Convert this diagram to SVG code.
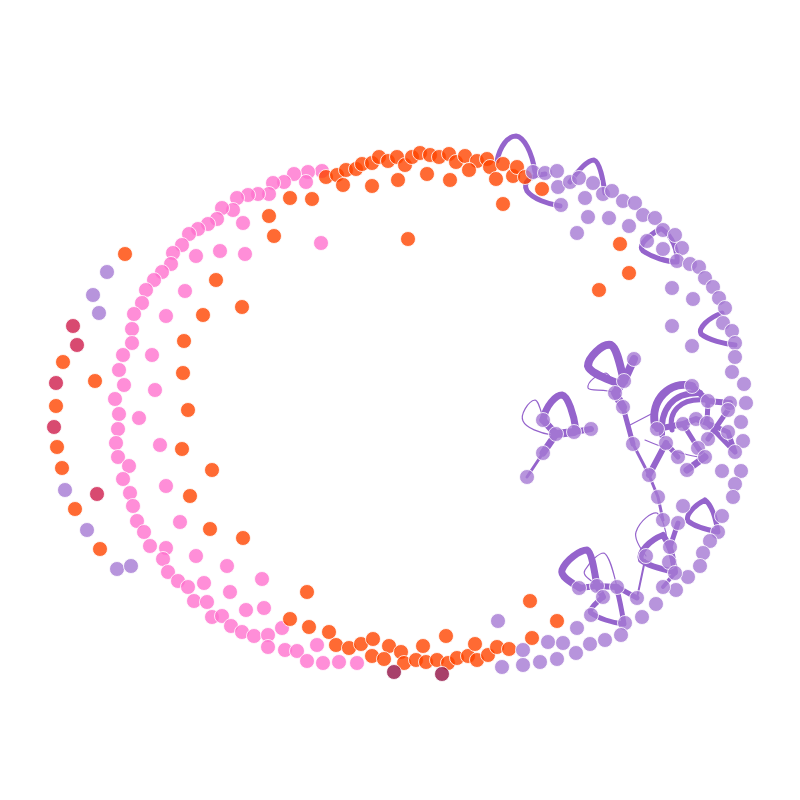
<svg xmlns="http://www.w3.org/2000/svg" width="800" height="800" viewBox="0 0 800 800">
<style>
circle{stroke:#fff;stroke-width:1;stroke-opacity:0.8;fill-opacity:0.8}
.o{fill:#ff4500}.p{fill:#ff72ce}.v{fill:#a579d3}.c{fill:#ce1d4c}.m{fill:#921045}
.e{fill:none;stroke:#9564cc;stroke-linecap:round;stroke-linejoin:round}
</style>
<rect width="800" height="800" fill="#fff"/>
<g id="connectors">
<path class="e" stroke-width="5" d="M497,161 C500,146 508,136 516,136 C524,137 532,152 535,172"/>
<path class="e" stroke-width="5" d="M545,174 C530,176 522,182 527,191 C533,199 548,204 560,206"/>
<path class="e" stroke-width="5" d="M570,182 C578,170 588,160 594,160 C600,162 603,180 605,193"/>
<path class="e" stroke-width="5" d="M660,229 C645,238 638,246 643,251 C652,257 667,262 677,262 C678,250 672,236 662,229"/>
<path class="e" stroke-width="5" d="M722,313 C708,318 698,328 701,334 C708,340 725,344 735,345"/>
<path class="e" stroke-width="8" d="M624,381 C620,365 617,348 611,345 C602,343 588,358 588,366 C590,373 605,378 617,383"/>
<path class="e" stroke-width="1.2" d="M615,393 C605,388 590,392 588,388 C587,382 597,374 606,373 C612,375 618,395 623,407"/>
<path class="e" stroke-width="7" d="M543,420 C546,405 556,395 562,395 C568,396 574,415 576,430"/>
<path class="e" stroke-width="1.2" d="M543,418 C540,408 538,400 535,400 C528,401 520,415 523,421 C526,428 540,433 552,435"/>
<path class="e" stroke-width="7" d="M580,588 C570,582 560,576 562,570 C566,560 580,550 587,550 C592,552 595,575 597,586"/>
<path class="e" stroke-width="1.2" d="M595,584 C588,578 582,575 585,570 C590,562 598,553 604,553 C610,556 614,575 617,587"/>
<path class="e" stroke-width="5" d="M603,597 C596,603 588,610 591,613 C598,618 612,623 624,624 C622,612 620,600 617,590"/>
<path class="e" stroke-width="6" d="M663,535 C650,540 638,552 641,560 C648,566 665,570 675,572 C674,560 670,545 663,535"/>
<path class="e" stroke-width="1.2" d="M646,556 C640,548 634,538 636,532 C640,520 652,512 657,513 C662,516 666,530 667,540"/>
<path class="e" stroke-width="5" d="M705,500 C695,505 685,515 688,521 C695,527 708,530 718,532 C716,520 712,505 705,500"/>
<path class="e" stroke-width="1.2" d="M630,425 L655,412 M645,440 Q680,455 705,458"/>
<path class="e" stroke-width="3" d="M527,477 L543,453"/>
<path class="e" stroke-width="7" d="M543,453 L556,434 L543,420"/>
<path class="e" stroke-width="8" d="M556,434 L574,432"/>
<path class="e" stroke-width="6" d="M574,432 L591,429"/>
<path class="e" stroke-width="8" d="M634,359 L624,381 L615,393 L623,407"/>
<path class="e" stroke-width="5" d="M623,407 L633,444"/>
<path class="e" stroke-width="3" d="M633,444 L649,475 L658,497 L663,520"/>
<path class="e" stroke-width="6" d="M649,475 L666,443"/>
<path class="e" stroke-width="6" d="M657,429 L683,424 L696,419 L707,423 M692,386 L708,401 L730,403"/>
<path class="e" stroke-width="5" d="M708,401 L707,423 L728,432 L735,452 M683,424 L698,448 L705,457 M666,443 L678,457 M728,410 L708,439 M707,423 L735,452"/>
<path class="e" stroke-width="7" d="M705,457 L687,470"/>
<path class="e" stroke-width="8" d="M655,425 C650,400 670,380 692,386"/>
<path class="e" stroke-width="6" d="M662,435 C660,410 672,392 700,393"/>
<path class="e" stroke-width="5" d="M672,430 C668,412 680,398 705,400"/>
<path class="e" stroke-width="6" d="M579,588 L597,586 L603,597 M597,586 L617,587"/>
<path class="e" stroke-width="5" d="M617,587 L637,598"/>
<path class="e" stroke-width="2" d="M637,598 L645,560"/>
<path class="e" stroke-width="5" d="M678,523 L670,547 L675,573"/>
<path class="e" stroke-width="4" d="M675,573 L663,587"/>
</g>
<g id="nodes">
<g id="n1"><circle class="p" cx="322" cy="171" r="7.5"/></g>
<g id="n2"><circle class="p" cx="308" cy="172" r="7.5"/></g>
<g id="n3"><circle class="p" cx="306" cy="182" r="7.5"/></g>
<g id="n4"><circle class="p" cx="294" cy="174" r="7.5"/></g>
<g id="n5"><circle class="p" cx="284" cy="182" r="7.5"/></g>
<g id="n6"><circle class="p" cx="273" cy="183" r="7.5"/></g>
<g id="n7"><circle class="p" cx="269" cy="194" r="7.5"/></g>
<g id="n8"><circle class="p" cx="258" cy="194" r="7.5"/></g>
<g id="n9"><circle class="p" cx="248" cy="195" r="7.5"/></g>
<g id="n10"><circle class="p" cx="237" cy="198" r="7.5"/></g>
<g id="n11"><circle class="p" cx="233" cy="210" r="7.5"/></g>
<g id="n12"><circle class="p" cx="222" cy="208" r="7.5"/></g>
<g id="n13"><circle class="p" cx="217" cy="219" r="7.5"/></g>
<g id="n14"><circle class="p" cx="208" cy="224" r="7.5"/></g>
<g id="n15"><circle class="p" cx="198" cy="229" r="7.5"/></g>
<g id="n16"><circle class="p" cx="189" cy="234" r="7.5"/></g>
<g id="n17"><circle class="p" cx="182" cy="245" r="7.5"/></g>
<g id="n18"><circle class="p" cx="173" cy="253" r="7.5"/></g>
<g id="n19"><circle class="p" cx="171" cy="264" r="7.5"/></g>
<g id="n20"><circle class="p" cx="162" cy="272" r="7.5"/></g>
<g id="n21"><circle class="p" cx="154" cy="280" r="7.5"/></g>
<g id="n22"><circle class="p" cx="146" cy="290" r="7.5"/></g>
<g id="n23"><circle class="p" cx="142" cy="303" r="7.5"/></g>
<g id="n24"><circle class="p" cx="134" cy="314" r="7.5"/></g>
<g id="n25"><circle class="p" cx="132" cy="329" r="7.5"/></g>
<g id="n26"><circle class="p" cx="132" cy="343" r="7.5"/></g>
<g id="n27"><circle class="p" cx="123" cy="355" r="7.5"/></g>
<g id="n28"><circle class="p" cx="119" cy="370" r="7.5"/></g>
<g id="n29"><circle class="p" cx="124" cy="385" r="7.5"/></g>
<g id="n30"><circle class="p" cx="115" cy="399" r="7.5"/></g>
<g id="n31"><circle class="p" cx="119" cy="414" r="7.5"/></g>
<g id="n32"><circle class="p" cx="118" cy="429" r="7.5"/></g>
<g id="n33"><circle class="p" cx="116" cy="443" r="7.5"/></g>
<g id="n34"><circle class="p" cx="118" cy="457" r="7.5"/></g>
<g id="n35"><circle class="p" cx="129" cy="466" r="7.5"/></g>
<g id="n36"><circle class="p" cx="123" cy="479" r="7.5"/></g>
<g id="n37"><circle class="p" cx="130" cy="493" r="7.5"/></g>
<g id="n38"><circle class="p" cx="133" cy="506" r="7.5"/></g>
<g id="n39"><circle class="p" cx="137" cy="521" r="7.5"/></g>
<g id="n40"><circle class="p" cx="144" cy="532" r="7.5"/></g>
<g id="n41"><circle class="p" cx="150" cy="546" r="7.5"/></g>
<g id="n42"><circle class="p" cx="166" cy="548" r="7.5"/></g>
<g id="n43"><circle class="p" cx="163" cy="559" r="7.5"/></g>
<g id="n44"><circle class="p" cx="168" cy="572" r="7.5"/></g>
<g id="n45"><circle class="p" cx="178" cy="581" r="7.5"/></g>
<g id="n46"><circle class="p" cx="188" cy="587" r="7.5"/></g>
<g id="n47"><circle class="p" cx="194" cy="601" r="7.5"/></g>
<g id="n48"><circle class="p" cx="207" cy="602" r="7.5"/></g>
<g id="n49"><circle class="p" cx="212" cy="617" r="7.5"/></g>
<g id="n50"><circle class="p" cx="222" cy="616" r="7.5"/></g>
<g id="n51"><circle class="p" cx="231" cy="626" r="7.5"/></g>
<g id="n52"><circle class="p" cx="242" cy="632" r="7.5"/></g>
<g id="n53"><circle class="p" cx="254" cy="636" r="7.5"/></g>
<g id="n54"><circle class="p" cx="268" cy="635" r="7.5"/></g>
<g id="n55"><circle class="p" cx="268" cy="647" r="7.5"/></g>
<g id="n56"><circle class="p" cx="282" cy="628" r="7.5"/></g>
<g id="n57"><circle class="p" cx="285" cy="650" r="7.5"/></g>
<g id="n58"><circle class="p" cx="297" cy="651" r="7.5"/></g>
<g id="n59"><circle class="p" cx="307" cy="661" r="7.5"/></g>
<g id="n60"><circle class="p" cx="317" cy="645" r="7.5"/></g>
<g id="n61"><circle class="p" cx="323" cy="663" r="7.5"/></g>
<g id="n62"><circle class="p" cx="339" cy="662" r="7.5"/></g>
<g id="n63"><circle class="p" cx="357" cy="663" r="7.5"/></g>
<g id="n64"><circle class="p" cx="243" cy="223" r="7.5"/></g>
<g id="n65"><circle class="p" cx="220" cy="251" r="7.5"/></g>
<g id="n66"><circle class="p" cx="196" cy="256" r="7.5"/></g>
<g id="n67"><circle class="p" cx="245" cy="254" r="7.5"/></g>
<g id="n68"><circle class="p" cx="185" cy="291" r="7.5"/></g>
<g id="n69"><circle class="p" cx="166" cy="316" r="7.5"/></g>
<g id="n70"><circle class="p" cx="321" cy="243" r="7.5"/></g>
<g id="n71"><circle class="p" cx="152" cy="355" r="7.5"/></g>
<g id="n72"><circle class="p" cx="155" cy="390" r="7.5"/></g>
<g id="n73"><circle class="p" cx="139" cy="418" r="7.5"/></g>
<g id="n74"><circle class="p" cx="160" cy="445" r="7.5"/></g>
<g id="n75"><circle class="p" cx="166" cy="486" r="7.5"/></g>
<g id="n76"><circle class="p" cx="180" cy="522" r="7.5"/></g>
<g id="n77"><circle class="p" cx="196" cy="556" r="7.5"/></g>
<g id="n78"><circle class="p" cx="227" cy="566" r="7.5"/></g>
<g id="n79"><circle class="p" cx="204" cy="583" r="7.5"/></g>
<g id="n80"><circle class="p" cx="230" cy="592" r="7.5"/></g>
<g id="n81"><circle class="p" cx="262" cy="579" r="7.5"/></g>
<g id="n82"><circle class="p" cx="246" cy="610" r="7.5"/></g>
<g id="n83"><circle class="p" cx="264" cy="608" r="7.5"/></g>
<g id="n84"><circle class="o" cx="125" cy="254" r="7.5"/></g>
<g id="n85"><circle class="o" cx="63" cy="362" r="7.5"/></g>
<g id="n86"><circle class="o" cx="95" cy="381" r="7.5"/></g>
<g id="n87"><circle class="o" cx="56" cy="406" r="7.5"/></g>
<g id="n88"><circle class="o" cx="57" cy="447" r="7.5"/></g>
<g id="n89"><circle class="o" cx="62" cy="468" r="7.5"/></g>
<g id="n90"><circle class="o" cx="75" cy="509" r="7.5"/></g>
<g id="n91"><circle class="o" cx="100" cy="549" r="7.5"/></g>
<g id="n92"><circle class="o" cx="269" cy="216" r="7.5"/></g>
<g id="n93"><circle class="o" cx="274" cy="236" r="7.5"/></g>
<g id="n94"><circle class="o" cx="216" cy="280" r="7.5"/></g>
<g id="n95"><circle class="o" cx="242" cy="307" r="7.5"/></g>
<g id="n96"><circle class="o" cx="203" cy="315" r="7.5"/></g>
<g id="n97"><circle class="o" cx="184" cy="341" r="7.5"/></g>
<g id="n98"><circle class="o" cx="183" cy="373" r="7.5"/></g>
<g id="n99"><circle class="o" cx="188" cy="410" r="7.5"/></g>
<g id="n100"><circle class="o" cx="182" cy="449" r="7.5"/></g>
<g id="n101"><circle class="o" cx="212" cy="470" r="7.5"/></g>
<g id="n102"><circle class="o" cx="190" cy="496" r="7.5"/></g>
<g id="n103"><circle class="o" cx="210" cy="529" r="7.5"/></g>
<g id="n104"><circle class="o" cx="243" cy="538" r="7.5"/></g>
<g id="n105"><circle class="o" cx="307" cy="592" r="7.5"/></g>
<g id="n106"><circle class="o" cx="290" cy="619" r="7.5"/></g>
<g id="n107"><circle class="o" cx="309" cy="627" r="7.5"/></g>
<g id="n108"><circle class="o" cx="329" cy="632" r="7.5"/></g>
<g id="n109"><circle class="o" cx="336" cy="645" r="7.5"/></g>
<g id="n110"><circle class="o" cx="349" cy="648" r="7.5"/></g>
<g id="n111"><circle class="o" cx="361" cy="644" r="7.5"/></g>
<g id="n112"><circle class="o" cx="373" cy="639" r="7.5"/></g>
<g id="n113"><circle class="o" cx="389" cy="646" r="7.5"/></g>
<g id="n114"><circle class="o" cx="372" cy="656" r="7.5"/></g>
<g id="n115"><circle class="o" cx="384" cy="659" r="7.5"/></g>
<g id="n116"><circle class="o" cx="401" cy="652" r="7.5"/></g>
<g id="n117"><circle class="o" cx="404" cy="663" r="7.5"/></g>
<g id="n118"><circle class="o" cx="416" cy="660" r="7.5"/></g>
<g id="n119"><circle class="o" cx="423" cy="646" r="7.5"/></g>
<g id="n120"><circle class="o" cx="426" cy="662" r="7.5"/></g>
<g id="n121"><circle class="o" cx="437" cy="660" r="7.5"/></g>
<g id="n122"><circle class="o" cx="446" cy="636" r="7.5"/></g>
<g id="n123"><circle class="o" cx="448" cy="663" r="7.5"/></g>
<g id="n124"><circle class="o" cx="457" cy="658" r="7.5"/></g>
<g id="n125"><circle class="o" cx="468" cy="656" r="7.5"/></g>
<g id="n126"><circle class="o" cx="475" cy="644" r="7.5"/></g>
<g id="n127"><circle class="o" cx="477" cy="660" r="7.5"/></g>
<g id="n128"><circle class="o" cx="488" cy="655" r="7.5"/></g>
<g id="n129"><circle class="o" cx="497" cy="647" r="7.5"/></g>
<g id="n130"><circle class="o" cx="509" cy="649" r="7.5"/></g>
<g id="n131"><circle class="o" cx="530" cy="601" r="7.5"/></g>
<g id="n132"><circle class="o" cx="557" cy="621" r="7.5"/></g>
<g id="n133"><circle class="o" cx="532" cy="638" r="7.5"/></g>
<g id="n134"><circle class="o" cx="290" cy="198" r="7.5"/></g>
<g id="n135"><circle class="o" cx="312" cy="199" r="7.5"/></g>
<g id="n136"><circle class="o" cx="326" cy="177" r="7.5"/></g>
<g id="n137"><circle class="o" cx="337" cy="175" r="7.5"/></g>
<g id="n138"><circle class="o" cx="346" cy="170" r="7.5"/></g>
<g id="n139"><circle class="o" cx="343" cy="185" r="7.5"/></g>
<g id="n140"><circle class="o" cx="356" cy="169" r="7.5"/></g>
<g id="n141"><circle class="o" cx="362" cy="164" r="7.5"/></g>
<g id="n142"><circle class="o" cx="372" cy="163" r="7.5"/></g>
<g id="n143"><circle class="o" cx="379" cy="157" r="7.5"/></g>
<g id="n144"><circle class="o" cx="388" cy="161" r="7.5"/></g>
<g id="n145"><circle class="o" cx="397" cy="157" r="7.5"/></g>
<g id="n146"><circle class="o" cx="405" cy="165" r="7.5"/></g>
<g id="n147"><circle class="o" cx="412" cy="157" r="7.5"/></g>
<g id="n148"><circle class="o" cx="420" cy="153" r="7.5"/></g>
<g id="n149"><circle class="o" cx="430" cy="155" r="7.5"/></g>
<g id="n150"><circle class="o" cx="439" cy="157" r="7.5"/></g>
<g id="n151"><circle class="o" cx="449" cy="154" r="7.5"/></g>
<g id="n152"><circle class="o" cx="456" cy="162" r="7.5"/></g>
<g id="n153"><circle class="o" cx="465" cy="156" r="7.5"/></g>
<g id="n154"><circle class="o" cx="477" cy="161" r="7.5"/></g>
<g id="n155"><circle class="o" cx="487" cy="159" r="7.5"/></g>
<g id="n156"><circle class="o" cx="490" cy="167" r="7.5"/></g>
<g id="n157"><circle class="o" cx="503" cy="164" r="7.5"/></g>
<g id="n158"><circle class="o" cx="513" cy="176" r="7.5"/></g>
<g id="n159"><circle class="o" cx="517" cy="167" r="7.5"/></g>
<g id="n160"><circle class="o" cx="372" cy="186" r="7.5"/></g>
<g id="n161"><circle class="o" cx="398" cy="180" r="7.5"/></g>
<g id="n162"><circle class="o" cx="427" cy="174" r="7.5"/></g>
<g id="n163"><circle class="o" cx="450" cy="180" r="7.5"/></g>
<g id="n164"><circle class="o" cx="469" cy="170" r="7.5"/></g>
<g id="n165"><circle class="o" cx="496" cy="179" r="7.5"/></g>
<g id="n166"><circle class="o" cx="503" cy="204" r="7.5"/></g>
<g id="n167"><circle class="o" cx="408" cy="239" r="7.5"/></g>
<g id="n168"><circle class="o" cx="525" cy="177" r="7.5"/></g>
<g id="n169"><circle class="o" cx="542" cy="189" r="7.5"/></g>
<g id="n170"><circle class="o" cx="620" cy="244" r="7.5"/></g>
<g id="n171"><circle class="o" cx="629" cy="273" r="7.5"/></g>
<g id="n172"><circle class="o" cx="599" cy="290" r="7.5"/></g>
<g id="n173"><circle class="c" cx="73" cy="326" r="7.5"/></g>
<g id="n174"><circle class="c" cx="77" cy="345" r="7.5"/></g>
<g id="n175"><circle class="c" cx="56" cy="383" r="7.5"/></g>
<g id="n176"><circle class="c" cx="54" cy="427" r="7.5"/></g>
<g id="n177"><circle class="c" cx="97" cy="494" r="7.5"/></g>
<g id="n178"><circle class="m" cx="394" cy="672" r="7.5"/></g>
<g id="n179"><circle class="m" cx="442" cy="674" r="7.5"/></g>
<g id="n180"><circle class="v" cx="107" cy="272" r="7.5"/></g>
<g id="n181"><circle class="v" cx="93" cy="295" r="7.5"/></g>
<g id="n182"><circle class="v" cx="99" cy="313" r="7.5"/></g>
<g id="n183"><circle class="v" cx="65" cy="490" r="7.5"/></g>
<g id="n184"><circle class="v" cx="87" cy="530" r="7.5"/></g>
<g id="n185"><circle class="v" cx="117" cy="569" r="7.5"/></g>
<g id="n186"><circle class="v" cx="131" cy="566" r="7.5"/></g>
<g id="n187"><circle class="v" cx="533" cy="172" r="7.5"/></g>
<g id="n188"><circle class="v" cx="545" cy="173" r="7.5"/></g>
<g id="n189"><circle class="v" cx="557" cy="171" r="7.5"/></g>
<g id="n190"><circle class="v" cx="558" cy="187" r="7.5"/></g>
<g id="n191"><circle class="v" cx="561" cy="205" r="7.5"/></g>
<g id="n192"><circle class="v" cx="570" cy="182" r="7.5"/></g>
<g id="n193"><circle class="v" cx="579" cy="178" r="7.5"/></g>
<g id="n194"><circle class="v" cx="593" cy="183" r="7.5"/></g>
<g id="n195"><circle class="v" cx="585" cy="198" r="7.5"/></g>
<g id="n196"><circle class="v" cx="603" cy="194" r="7.5"/></g>
<g id="n197"><circle class="v" cx="612" cy="191" r="7.5"/></g>
<g id="n198"><circle class="v" cx="623" cy="201" r="7.5"/></g>
<g id="n199"><circle class="v" cx="635" cy="203" r="7.5"/></g>
<g id="n200"><circle class="v" cx="643" cy="215" r="7.5"/></g>
<g id="n201"><circle class="v" cx="655" cy="218" r="7.5"/></g>
<g id="n202"><circle class="v" cx="588" cy="217" r="7.5"/></g>
<g id="n203"><circle class="v" cx="609" cy="218" r="7.5"/></g>
<g id="n204"><circle class="v" cx="577" cy="233" r="7.5"/></g>
<g id="n205"><circle class="v" cx="629" cy="226" r="7.5"/></g>
<g id="n206"><circle class="v" cx="647" cy="241" r="7.5"/></g>
<g id="n207"><circle class="v" cx="663" cy="230" r="7.5"/></g>
<g id="n208"><circle class="v" cx="675" cy="235" r="7.5"/></g>
<g id="n209"><circle class="v" cx="663" cy="249" r="7.5"/></g>
<g id="n210"><circle class="v" cx="682" cy="248" r="7.5"/></g>
<g id="n211"><circle class="v" cx="677" cy="261" r="7.5"/></g>
<g id="n212"><circle class="v" cx="690" cy="264" r="7.5"/></g>
<g id="n213"><circle class="v" cx="699" cy="267" r="7.5"/></g>
<g id="n214"><circle class="v" cx="705" cy="278" r="7.5"/></g>
<g id="n215"><circle class="v" cx="713" cy="287" r="7.5"/></g>
<g id="n216"><circle class="v" cx="672" cy="288" r="7.5"/></g>
<g id="n217"><circle class="v" cx="693" cy="299" r="7.5"/></g>
<g id="n218"><circle class="v" cx="719" cy="298" r="7.5"/></g>
<g id="n219"><circle class="v" cx="725" cy="308" r="7.5"/></g>
<g id="n220"><circle class="v" cx="672" cy="326" r="7.5"/></g>
<g id="n221"><circle class="v" cx="692" cy="346" r="7.5"/></g>
<g id="n222"><circle class="v" cx="723" cy="323" r="7.5"/></g>
<g id="n223"><circle class="v" cx="732" cy="331" r="7.5"/></g>
<g id="n224"><circle class="v" cx="735" cy="343" r="7.5"/></g>
<g id="n225"><circle class="v" cx="735" cy="357" r="7.5"/></g>
<g id="n226"><circle class="v" cx="732" cy="372" r="7.5"/></g>
<g id="n227"><circle class="v" cx="744" cy="384" r="7.5"/></g>
<g id="n228"><circle class="v" cx="746" cy="403" r="7.5"/></g>
<g id="n229"><circle class="v" cx="741" cy="422" r="7.5"/></g>
<g id="n230"><circle class="v" cx="743" cy="441" r="7.5"/></g>
<g id="n231"><circle class="v" cx="741" cy="471" r="7.5"/></g>
<g id="n232"><circle class="v" cx="722" cy="471" r="7.5"/></g>
<g id="n233"><circle class="v" cx="735" cy="484" r="7.5"/></g>
<g id="n234"><circle class="v" cx="733" cy="497" r="7.5"/></g>
<g id="n235"><circle class="v" cx="683" cy="506" r="7.5"/></g>
<g id="n236"><circle class="v" cx="722" cy="516" r="7.5"/></g>
<g id="n237"><circle class="v" cx="718" cy="532" r="7.5"/></g>
<g id="n238"><circle class="v" cx="710" cy="541" r="7.5"/></g>
<g id="n239"><circle class="v" cx="703" cy="553" r="7.5"/></g>
<g id="n240"><circle class="v" cx="700" cy="566" r="7.5"/></g>
<g id="n241"><circle class="v" cx="688" cy="577" r="7.5"/></g>
<g id="n242"><circle class="v" cx="676" cy="590" r="7.5"/></g>
<g id="n243"><circle class="v" cx="663" cy="587" r="7.5"/></g>
<g id="n244"><circle class="v" cx="663" cy="520" r="7.5"/></g>
<g id="n245"><circle class="v" cx="678" cy="523" r="7.5"/></g>
<g id="n246"><circle class="v" cx="670" cy="547" r="7.5"/></g>
<g id="n247"><circle class="v" cx="646" cy="556" r="7.5"/></g>
<g id="n248"><circle class="v" cx="669" cy="562" r="7.5"/></g>
<g id="n249"><circle class="v" cx="675" cy="573" r="7.5"/></g>
<g id="n250"><circle class="v" cx="656" cy="604" r="7.5"/></g>
<g id="n251"><circle class="v" cx="642" cy="617" r="7.5"/></g>
<g id="n252"><circle class="v" cx="634" cy="359" r="7.5"/></g>
<g id="n253"><circle class="v" cx="624" cy="381" r="7.5"/></g>
<g id="n254"><circle class="v" cx="615" cy="393" r="7.5"/></g>
<g id="n255"><circle class="v" cx="623" cy="407" r="7.5"/></g>
<g id="n256"><circle class="v" cx="633" cy="444" r="7.5"/></g>
<g id="n257"><circle class="v" cx="649" cy="475" r="7.5"/></g>
<g id="n258"><circle class="v" cx="658" cy="497" r="7.5"/></g>
<g id="n259"><circle class="v" cx="543" cy="420" r="7.5"/></g>
<g id="n260"><circle class="v" cx="556" cy="434" r="7.5"/></g>
<g id="n261"><circle class="v" cx="574" cy="432" r="7.5"/></g>
<g id="n262"><circle class="v" cx="591" cy="429" r="7.5"/></g>
<g id="n263"><circle class="v" cx="543" cy="453" r="7.5"/></g>
<g id="n264"><circle class="v" cx="527" cy="477" r="7.5"/></g>
<g id="n265"><circle class="v" cx="692" cy="386" r="7.5"/></g>
<g id="n266"><circle class="v" cx="708" cy="401" r="7.5"/></g>
<g id="n267"><circle class="v" cx="730" cy="403" r="7.5"/></g>
<g id="n268"><circle class="v" cx="728" cy="410" r="7.5"/></g>
<g id="n269"><circle class="v" cx="657" cy="429" r="7.5"/></g>
<g id="n270"><circle class="v" cx="683" cy="424" r="7.5"/></g>
<g id="n271"><circle class="v" cx="696" cy="419" r="7.5"/></g>
<g id="n272"><circle class="v" cx="707" cy="423" r="7.5"/></g>
<g id="n273"><circle class="v" cx="708" cy="439" r="7.5"/></g>
<g id="n274"><circle class="v" cx="728" cy="432" r="7.5"/></g>
<g id="n275"><circle class="v" cx="666" cy="443" r="7.5"/></g>
<g id="n276"><circle class="v" cx="678" cy="457" r="7.5"/></g>
<g id="n277"><circle class="v" cx="698" cy="448" r="7.5"/></g>
<g id="n278"><circle class="v" cx="705" cy="457" r="7.5"/></g>
<g id="n279"><circle class="v" cx="735" cy="452" r="7.5"/></g>
<g id="n280"><circle class="v" cx="687" cy="470" r="7.5"/></g>
<g id="n281"><circle class="v" cx="579" cy="588" r="7.5"/></g>
<g id="n282"><circle class="v" cx="597" cy="586" r="7.5"/></g>
<g id="n283"><circle class="v" cx="603" cy="597" r="7.5"/></g>
<g id="n284"><circle class="v" cx="617" cy="587" r="7.5"/></g>
<g id="n285"><circle class="v" cx="637" cy="598" r="7.5"/></g>
<g id="n286"><circle class="v" cx="591" cy="615" r="7.5"/></g>
<g id="n287"><circle class="v" cx="625" cy="623" r="7.5"/></g>
<g id="n288"><circle class="v" cx="577" cy="628" r="7.5"/></g>
<g id="n289"><circle class="v" cx="548" cy="642" r="7.5"/></g>
<g id="n290"><circle class="v" cx="563" cy="643" r="7.5"/></g>
<g id="n291"><circle class="v" cx="523" cy="650" r="7.5"/></g>
<g id="n292"><circle class="v" cx="523" cy="665" r="7.5"/></g>
<g id="n293"><circle class="v" cx="540" cy="662" r="7.5"/></g>
<g id="n294"><circle class="v" cx="557" cy="659" r="7.5"/></g>
<g id="n295"><circle class="v" cx="576" cy="653" r="7.5"/></g>
<g id="n296"><circle class="v" cx="590" cy="644" r="7.5"/></g>
<g id="n297"><circle class="v" cx="605" cy="640" r="7.5"/></g>
<g id="n298"><circle class="v" cx="621" cy="635" r="7.5"/></g>
<g id="n299"><circle class="v" cx="498" cy="621" r="7.5"/></g>
<g id="n300"><circle class="v" cx="502" cy="667" r="7.5"/></g>
</g>
</svg>
